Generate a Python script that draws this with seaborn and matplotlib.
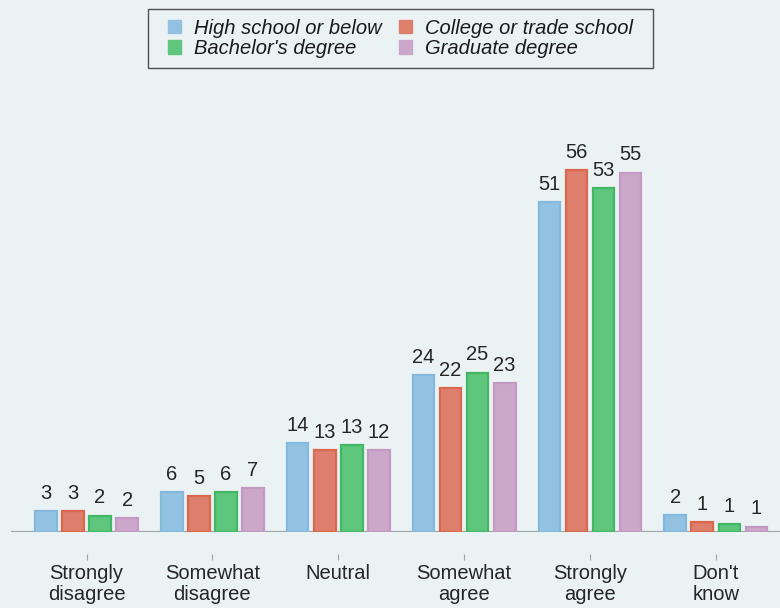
import pandas as pd
import matplotlib
matplotlib.use("Agg")
import matplotlib.pyplot as plt
import seaborn as sns
from matplotlib.patches import Patch, Rectangle

# 응답 범주와 학력 그룹
categories = ["Strongly\ndisagree", "Somewhat\ndisagree", "Neutral",
              "Somewhat\nagree", "Strongly\nagree", "Don't\nknow"]
groups = ["High school or below", "College or trade school",
          "Bachelor's degree", "Graduate degree"]

# 막대 높이
high_school = [3.2, 6.15, 13.7, 24.2, 51.0, 2.6]
college = [3.25, 5.55, 12.6, 22.2, 55.9, 1.5]
bachelor = [2.5, 6.15, 13.4, 24.6, 53.1, 1.2]
graduate = [2.1, 6.8, 12.6, 23.0, 55.5, 0.8]

# 막대 위에 표시된 값
labels_high_school = ["3", "6", "14", "24", "51", "2"]
labels_college = ["3", "5", "13", "22", "56", "1"]
labels_bachelor = ["2", "6", "13", "25", "53", "1"]
labels_graduate = ["2", "7", "12", "23", "55", "1"]

fills = ["#93c1e1", "#dd7f6c", "#5fc67d", "#cba7ca"]
edges = ["#84b8dd", "#d9684f", "#42b864", "#c49ac2"]
bg = "#eaf2f4"
fs = 14.5

sns.set_style("white")
plt.rcParams["font.family"] = ["Liberation Sans", "DejaVu Sans"]

rows = []
for grp, vals in zip(groups, [high_school, college, bachelor, graduate]):
    for cat, v in zip(categories, vals):
        rows.append({"category": cat, "group": grp, "value": v})
df = pd.DataFrame(rows)

fig = plt.figure(figsize=(7.8, 6.08), dpi=100, facecolor=bg)
ax = fig.add_axes([11 / 780, (608 - 532) / 608, 1 - 11 / 780, 0.66])
ax.set_facecolor(bg)

sns.barplot(data=df, x="category", y="value", hue="group", order=categories,
            hue_order=groups, palette=fills, saturation=1, width=0.86, gap=0.2,
            linewidth=1.6, legend=False, ax=ax)

for cont, ec in zip(ax.containers, edges):
    for bar in cont:
        bar.set_edgecolor(ec)

all_labels = [labels_high_school, labels_college, labels_bachelor, labels_graduate]
for cont, lab in zip(ax.containers, all_labels):
    ax.bar_label(cont, labels=lab, padding=6, fontsize=fs, color="#262626")

ax.axhline(0, color="#a0a4a6", linewidth=1.6, zorder=0)
ax.set_xlim(-0.6, 5.51)
ax.set_ylim(0, 62)
ax.set_xlabel("")
ax.set_ylabel("")
ax.set_yticks([])
for s in ["top", "right", "left", "bottom"]:
    ax.spines[s].set_visible(False)
# 눈금은 축선보다 아래쪽에 따로 표시 (outward 단위는 pt)
ax.spines["bottom"].set_position(("outward", 15.8))
ax.tick_params(axis="x", direction="out", length=4.5, width=0.8,
               color="#a0a4a6", pad=3, labelsize=fs, labelcolor="#262626",
               bottom=True)
for t in ax.get_xticklabels():
    t.set_linespacing(1.1)

# 범례: 테두리는 따로 그림 (좌우 여백이 위아래보다 넓음)
handles = [Patch(facecolor=fills[i], edgecolor=fills[i]) for i in [0, 2, 1, 3]]
names = [groups[i] for i in [0, 2, 1, 3]]
leg = fig.legend(handles, names, ncol=2, loc="upper center",
                 bbox_to_anchor=(0.513, 0.969), frameon=False,
                 prop={"size": fs, "style": "italic"}, handlelength=0.65,
                 handleheight=0.65, handletextpad=0.65, columnspacing=0.85,
                 labelspacing=0.05, borderpad=0, borderaxespad=0)
for txt in leg.get_texts():
    txt.set_color("#1a1a1a")

fig.canvas.draw()
bb = leg.get_window_extent()
px, py = 20, 10
fig.patches.append(Rectangle((bb.x0 - px, bb.y0 - py), bb.width + 2 * px,
                             bb.height + 2 * py, transform=None,
                             facecolor="none", edgecolor="#505050",
                             linewidth=1.0, zorder=5))

fig.savefig("out.png", dpi=100, facecolor=bg)
